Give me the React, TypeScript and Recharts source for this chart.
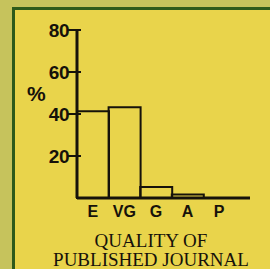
import React from 'react';
import { BarChart, Bar, XAxis, YAxis } from 'recharts';

const categories = ['E', 'VG', 'G', 'A', 'P'];
const percentages = [41.3, 43.2, 5.2, 1.7, 0];
const yTicks = [20, 40, 60, 80];

const data = categories.map((cat, i) => ({ cat, pct: percentages[i] }));

const ink = '#16120a';

function YTick(props: any) {
  const { x, y, payload } = props;
  return (
    <g>
      <line x1={x - 9} x2={x + 4} y1={y} y2={y} stroke={ink} strokeWidth={2} />
      <text
        x={x - 8}
        y={y}
        dy="0.36em"
        textAnchor="end"
        fill={ink}
        fontSize={19}
        fontWeight="bold"
        fontFamily="'Liberation Sans', Arial, sans-serif"
        letterSpacing={-0.5}
      >
        {payload.value}
      </text>
    </g>
  );
}

export default function App() {
  return (
    <div
      style={{
        position: 'absolute',
        left: 0,
        top: 0,
        width: 270,
        height: 269,
        overflow: 'hidden',
        background: '#c6c35c',
      }}
    >
      <div
        style={{
          position: 'absolute',
          left: 12,
          top: 7,
          width: 280,
          height: 280,
          border: '3px solid #2e5a1a',
          background: '#e9d44b',
        }}
      />
      <div
        style={{
          position: 'absolute',
          left: 27,
          top: 82,
          fontSize: 21,
          fontWeight: 'bold',
          color: ink,
          fontFamily: "'Liberation Sans', Arial, sans-serif",
        }}
      >
        %
      </div>
      <div style={{ position: 'absolute', left: 0, top: 0 }}>
        <BarChart
          width={270}
          height={269}
          data={data}
          margin={{ top: 30, right: 20, left: 0, bottom: 41 }}
          barCategoryGap={0}
          barGap={0}
        >
          <YAxis
            width={77}
            domain={[0, 80]}
            ticks={yTicks}
            axisLine={{ stroke: ink, strokeWidth: 3 }}
            tickLine={false}
            tickSize={0}
            tickMargin={0}
            tick={<YTick />}
          />
          <XAxis
            dataKey="cat"
            interval={0}
            padding={{ left: 0, right: 15 }}
            axisLine={{ stroke: ink, strokeWidth: 3 }}
            tickLine={false}
            tickSize={0}
            tickMargin={8}
            tick={{
              fill: ink,
              fontSize: 16,
              fontWeight: 'bold',
              fontFamily: "'Liberation Sans', Arial, sans-serif",
            }}
          />
          <Bar dataKey="pct" fill="none" stroke={ink} strokeWidth={2} isAnimationActive={false} />
        </BarChart>
      </div>
      <div
        style={{
          position: 'absolute',
          left: 40,
          top: 231,
          width: 222,
          textAlign: 'center',
          fontSize: 19,
          lineHeight: '19px',
          color: ink,
          fontFamily: "'Liberation Serif', serif",
        }}
      >
        QUALITY OF
        <br />
        PUBLISHED JOURNAL
      </div>
    </div>
  );
}
